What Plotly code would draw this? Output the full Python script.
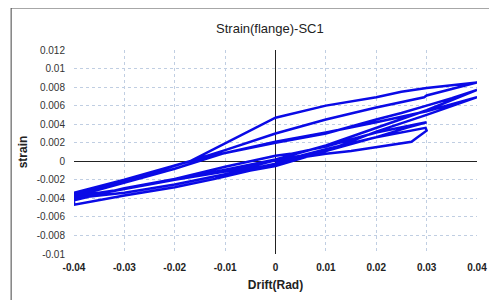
import plotly.graph_objects as go

# Drift (rad) and strain path of the hysteresis record
drift = [
    0.0, 0.005, 0.01, 0.015, 0.02, 0.025, 0.027, 0.028, 0.03, 0.0298,
    0.025, 0.02, 0.01, 0.005, 0.0, -0.005, -0.01, -0.02, -0.03, -0.04,
    -0.03, -0.02, -0.01, -0.003, 0.0, 0.005, 0.01, 0.02, 0.026, 0.03,
    0.028, 0.02, 0.01, 0.003, 0.0, -0.01, -0.02, -0.03, -0.04, -0.04,
    -0.03, -0.02, -0.012, -0.005, 0.0, 0.01, 0.02, 0.03, 0.04,
    0.03, 0.02, 0.01, 0.0, -0.01, -0.02, -0.03, -0.04,
    -0.03, -0.02, -0.01, 0.0, 0.01, 0.02, 0.03, 0.04,
    0.035, 0.03, 0.025, 0.02, 0.01, 0.0, -0.01, -0.017, -0.03, -0.04,
    -0.03, -0.017, -0.01, 0.0, 0.01, 0.02, 0.025, 0.03, 0.04,
    0.03, 0.0295, 0.02, 0.01, 0.0, -0.01, -0.017, -0.03, -0.04,
]
strain = [
    0.0, 0.0004, 0.0008, 0.0011, 0.0015, 0.0019, 0.0021, 0.0025, 0.0033, 0.0036,
    0.0031, 0.0026, 0.0013, 0.0006, 0.0001, -0.0006, -0.0011, -0.002, -0.003, -0.004,
    -0.0034, -0.0025, -0.0014, -0.0006, -0.0003, 0.0003, 0.0011, 0.0026, 0.0036, 0.0042,
    0.004, 0.0031, 0.0016, 0.0008, 0.0006, -0.0006, -0.0019, -0.0029, -0.0042, -0.0047,
    -0.0037, -0.0028, -0.0019, -0.001, -0.0005, 0.0011, 0.0032, 0.005, 0.0069,
    0.0054, 0.0042, 0.0031, 0.0021, 0.0009, -0.0008, -0.0023, -0.0038,
    -0.003, -0.002, -0.0009, 0.0002, 0.0017, 0.0036, 0.0055, 0.0077,
    0.0068, 0.006, 0.0052, 0.0045, 0.003, 0.002, 0.0009, 0.0, -0.002, -0.0034,
    -0.002, 0.0, 0.0019, 0.0047, 0.006, 0.0069, 0.0075, 0.0079, 0.0085,
    0.0071, 0.0069, 0.0058, 0.0045, 0.003, 0.0012, 0.0, -0.0022, -0.0036,
]

x_ticks = [-0.04, -0.03, -0.02, -0.01, 0, 0.01, 0.02, 0.03, 0.04]
x_labels = ["-0.04", "-0.03", "-0.02", "-0.01", "0", "0.01", "0.02", "0.03", "0.04"]
y_ticks = [-0.01, -0.008, -0.006, -0.004, -0.002, 0, 0.002, 0.004, 0.006, 0.008, 0.01, 0.012]
y_labels = ["-0.01", "-0.008", "-0.006", "-0.004", "-0.002", "0", "0.002", "0.004",
            "0.006", "0.008", "0.01", "0.012"]

fig = go.Figure()
fig.add_trace(go.Scatter(
    x=drift, y=strain, mode="lines",
    line=dict(color="#0a0ae6", width=2.5),
    showlegend=False,
))

font_family = "Liberation Sans, Arial, sans-serif"
grid = dict(showgrid=True, gridcolor="#c0cee2", griddash="dot", gridwidth=1,
            zeroline=True, zerolinecolor="#222222", zerolinewidth=1,
            showline=False, automargin=False)

fig.update_layout(
    width=497, height=300,
    margin=dict(l=66, r=28, t=42, b=54, autoexpand=False),
    paper_bgcolor="white", plot_bgcolor="white",
    title=dict(text="Strain(flange)-SC1", x=0.527, xanchor="center",
               y=0.933, yanchor="middle", automargin=False,
               font=dict(family=font_family, size=13, color="#222222")),
    xaxis=dict(range=[-0.04, 0.04], tickvals=x_ticks, ticktext=x_labels,
               ticks="outside", ticklen=4, tickcolor="rgba(0,0,0,0)",
               tickfont=dict(family=font_family, size=10, color="#222222", weight="bold"),
               title=dict(text="<b>Drift(Rad)</b>", standoff=8,
                          font=dict(family=font_family, size=12, color="#222222")),
               **grid),
    yaxis=dict(range=[-0.01, 0.012], tickvals=y_ticks, ticktext=y_labels,
               ticks="outside", ticklen=6, tickcolor="rgba(0,0,0,0)",
               tickfont=dict(family=font_family, size=10, color="#333333"),
               title=dict(text="<b>strain</b>", standoff=6,
                          font=dict(family=font_family, size=12, color="#222222")),
               **grid),
    shapes=[
        dict(type="line", xref="paper", yref="paper", x0=-0.156, x1=-0.156, y0=-0.3, y1=1.206,
             line=dict(color="#444444", width=1)),
        dict(type="line", xref="paper", yref="paper", x0=-0.156, x1=1.1, y0=1.206, y1=1.206,
             line=dict(color="#444444", width=1)),
    ],
)

fig.write_html("out.html")
